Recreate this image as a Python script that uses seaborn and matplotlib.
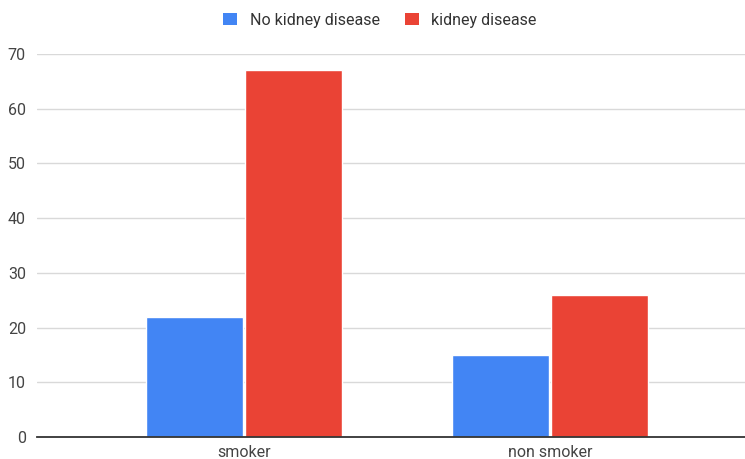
import matplotlib
matplotlib.use("Agg")
import matplotlib.pyplot as plt
import seaborn as sns
import pandas as pd
from matplotlib.patches import Patch

categories = ["smoker", "non smoker"]
no_kidney_disease = [22, 15]
kidney_disease = [67, 26]
series_names = ["No kidney disease", "kidney disease"]
y_ticks = [0, 10, 20, 30, 40, 50, 60, 70]

df = pd.DataFrame({
    "group": categories * 2,
    "status": [series_names[0]] * 2 + [series_names[1]] * 2,
    "count": no_kidney_disease + kidney_disease,
})

sns.set_theme(style="white")
plt.rcParams["font.family"] = ["Roboto", "DejaVu Sans"]

colors = ["#4285F4", "#EA4335"]
W, H = 745, 459
fig = plt.figure(figsize=(W / 100, H / 100), dpi=100)
ax = fig.add_axes([37 / W, (H - 437) / H, (745 - 37) / W, (437 - 54) / H])

sns.barplot(data=df, x="group", y="count", hue="status", palette=colors,
            width=0.65, gap=0.025, ax=ax, legend=False, saturation=1)

ax.set_ylim(0, 70)
ax.set_xlim(-0.676, 1.637)
ax.set_yticks(y_ticks)
ax.grid(axis="y", color="#d9d9d9", linewidth=1)
ax.set_axisbelow(True)
for s in ["top", "right", "left"]:
    ax.spines[s].set_visible(False)
ax.spines["bottom"].set_color("#333333")
ax.spines["bottom"].set_linewidth(1.3)
ax.tick_params(axis="both", length=0, labelsize=11.5, colors="#444444", pad=8)
ax.tick_params(axis="x", pad=6)
ax.set_xlabel("")
ax.set_ylabel("")

handles = [Patch(facecolor=c, edgecolor="none") for c in colors]
fig.legend(handles, series_names, loc="center", bbox_to_anchor=(380 / W, 1 - 20 / H),
           ncol=2, frameon=False, fontsize=11.5, handlelength=0.85, handleheight=0.85,
           handletextpad=0.8, columnspacing=1.6, labelcolor="#333333")

fig.savefig("out.png", dpi=100)
